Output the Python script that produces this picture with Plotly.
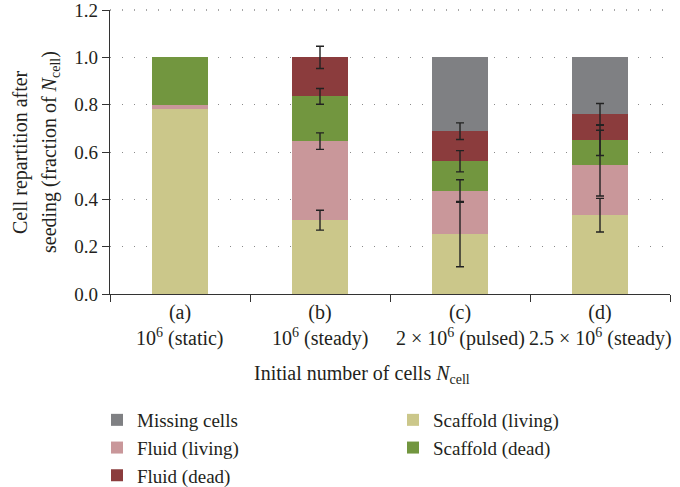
import numpy as np
import plotly.graph_objects as go

categories = ["(a)", "(b)", "(c)", "(d)"]
conditions = ["10<sup>6</sup> (static)", "10<sup>6</sup> (steady)",
              "2 × 10<sup>6</sup> (pulsed)", "2.5 × 10<sup>6</sup> (steady)"]
y_ticks = [0.0, 0.2, 0.4, 0.6, 0.8, 1.0, 1.2]

# stacked fractions, bottom to top
scaffold_living = [0.78, 0.312, 0.253, 0.333]
fluid_living = [0.02, 0.334, 0.182, 0.211]
scaffold_dead = [0.20, 0.189, 0.126, 0.106]
fluid_dead = [0.0, 0.165, 0.127, 0.109]
missing = [0.0, 0.0, 0.312, 0.241]

# error bars at top of each segment (None = no bar)
err_scaffold_living_plus = [None, 0.042, 0.138, 0.071]
err_scaffold_living_minus = [None, 0.042, 0.138, 0.071]
err_fluid_living_plus = [None, 0.035, 0.048, 0.148]
err_fluid_living_minus = [None, 0.035, 0.048, 0.130]
err_scaffold_dead_plus = [None, 0.033, 0.045, 0.065]
err_scaffold_dead_minus = [None, 0.033, 0.045, 0.065]
err_fluid_dead_plus = [None, 0.047, 0.035, 0.046]
err_fluid_dead_minus = [None, 0.047, 0.035, 0.046]

FONT = "Liberation Serif"
TXT = "#231F20"
FS = 20
GRID = "#8a8a8a"
GRID_DASH = "1px,11px"

series = [
    ("Scaffold (living)", scaffold_living, "#CBC78A", 2,
     err_scaffold_living_plus, err_scaffold_living_minus),
    ("Fluid (living)", fluid_living, "#C9979A", 3,
     err_fluid_living_plus, err_fluid_living_minus),
    ("Scaffold (dead)", scaffold_dead, "#72963F", 4,
     err_scaffold_dead_plus, err_scaffold_dead_minus),
    ("Fluid (dead)", fluid_dead, "#8B3C3D", 5,
     err_fluid_dead_plus, err_fluid_dead_minus),
    ("Missing cells", missing, "#7F8083", 1, None, None),
]

fig = go.Figure()
for name, vals, color, rank, _, _ in series:
    fig.add_trace(go.Bar(x=categories, y=vals, name=name, marker_color=color,
                         marker_line_width=0, legendrank=rank))

cum = np.zeros(len(categories))
for name, vals, color, rank, ep, em in series:
    cum = cum + np.array(vals)
    if ep is None:
        continue
    xs = [c for c, e in zip(categories, ep) if e is not None]
    ys = [v for v, e in zip(cum, ep) if e is not None]
    p = [e for e in ep if e is not None]
    m = [e for e in em if e is not None]
    fig.add_trace(go.Scatter(
        x=xs, y=ys, mode="markers", marker=dict(size=0.1, opacity=0),
        showlegend=False, hoverinfo="skip",
        error_y=dict(type="data", array=p, arrayminus=m, symmetric=False,
                     color="#222222", thickness=1.4, width=4)))

W, H = 680, 487
L, R, T, B = 110, 10, 10, 193
pw, ph = W - L - R, H - T - B


def px_x(p):
    return (p - L) / pw


def px_y(p):
    return (H - B - p) / ph


annotations = []
for c, t in zip(categories, conditions):
    annotations.append(dict(x=c, xref="x", y=px_y(337), yref="paper", text=t,
                            showarrow=False, xanchor="center", yanchor="middle",
                            font=dict(family=FONT, size=FS, color=TXT)))
annotations.append(dict(x=px_x(362), xref="paper", y=px_y(374), yref="paper",
                        text="Initial number of cells <i>N</i><sub>cell</sub>",
                        showarrow=False, xanchor="center", yanchor="middle",
                        font=dict(family=FONT, size=FS, color=TXT)))
annotations.append(dict(x=px_x(20), xref="paper", y=0.5, yref="paper",
                        text="Cell repartition after", textangle=-90,
                        showarrow=False, xanchor="center", yanchor="middle",
                        font=dict(family=FONT, size=FS, color=TXT)))
annotations.append(dict(x=px_x(50), xref="paper", y=0.5, yref="paper",
                        text="seeding (fraction of <i>N</i><sub>cell</sub>)", textangle=-90,
                        showarrow=False, xanchor="center", yanchor="middle",
                        font=dict(family=FONT, size=FS, color=TXT)))

# top gridline at the top of the y range (plotly omits the grid at the range edge)
shapes = [dict(type="line", xref="paper", x0=0, x1=1, yref="paper", y0=1, y1=1,
               line=dict(color=GRID, width=1.3, dash=GRID_DASH), layer="below")]

fig.update_layout(
    width=W, height=H, barmode="stack", bargap=0.6,
    margin=dict(l=L, r=R, t=T, b=B, autoexpand=False),
    paper_bgcolor="white", plot_bgcolor="white",
    font=dict(family=FONT, size=19, color=TXT),
    annotations=annotations, shapes=shapes,
    legend=dict(orientation="h", x=px_x(97), xanchor="left", y=px_y(401), yanchor="top",
                entrywidth=251, entrywidthmode="pixels", traceorder="normal",
                font=dict(family=FONT, size=19, color=TXT), tracegroupgap=0),
    showlegend=True,
)
fig.update_xaxes(type="category", tickvals=categories, ticktext=categories,
                 showline=True, linecolor="#333333", linewidth=1.3, automargin=False,
                 ticks="outside", tickson="boundaries", ticklen=7, tickcolor="#333333",
                 tickwidth=1.3, showgrid=False, tickfont=dict(family=FONT, size=FS, color=TXT),
                 range=[-0.5, 3.5])
fig.update_yaxes(range=[0, 1.2], tickvals=y_ticks, ticktext=[f"{v:.1f}" for v in y_ticks],
                 showline=True, automargin=False, ticklabeloverflow="allow",
                 linecolor="#333333", linewidth=1.3, ticks="outside", ticklen=7,
                 tickcolor="#333333", tickwidth=1.3, showgrid=True, gridcolor=GRID,
                 gridwidth=1.3, griddash=GRID_DASH, zeroline=False,
                 tickfont=dict(family=FONT, size=19, color=TXT))

fig.write_html("out.html")
